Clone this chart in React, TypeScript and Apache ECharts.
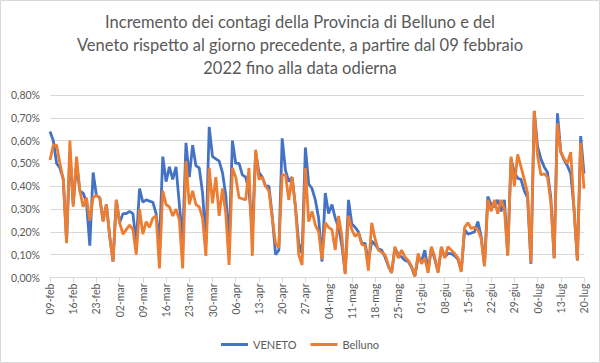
import React, { useEffect, useRef } from "react";
import * as echarts from "echarts";

const MONTHS = ["gen", "feb", "mar", "apr", "mag", "giu", "lug", "ago", "set", "ott", "nov", "dic"];
const START = { year: 2022, month: 1, day: 9 };
const DAY_COUNT = 162;

const dates: string[] = [];
for (let i = 0; i < DAY_COUNT; i++) {
  const d = new Date(Date.UTC(START.year, START.month, START.day + i));
  dates.push(String(d.getUTCDate()).padStart(2, "0") + "-" + MONTHS[d.getUTCMonth()]);
}

const veneto: number[] = [
  0.64, 0.60, 0.50, 0.48, 0.43, 0.16, 0.55, 0.32, 0.50, 0.38,
  0.37, 0.33, 0.14, 0.46, 0.36, 0.35, 0.25, 0.32, 0.18, 0.07,
  0.34, 0.24, 0.28, 0.28, 0.29, 0.28, 0.15, 0.39, 0.33, 0.34,
  0.335, 0.33, 0.28, 0.15, 0.53, 0.42, 0.485, 0.43, 0.485, 0.32,
  0.16, 0.59, 0.44, 0.58, 0.49, 0.48, 0.37, 0.15, 0.66, 0.53,
  0.52, 0.51, 0.46, 0.36, 0.15, 0.60, 0.50, 0.50, 0.45, 0.44,
  0.38, 0.20, 0.55, 0.46, 0.44, 0.40, 0.40, 0.27, 0.10, 0.12,
  0.61, 0.47, 0.42, 0.44, 0.31, 0.15, 0.105, 0.57, 0.41, 0.39,
  0.34, 0.26, 0.07, 0.37, 0.28, 0.32, 0.26, 0.22, 0.14, 0.02,
  0.34, 0.235, 0.22, 0.20, 0.15, 0.15, 0.07, 0.16, 0.145, 0.125,
  0.12, 0.09, 0.05, 0.02, 0.13, 0.10, 0.09, 0.075, 0.07, 0.045,
  0.005, 0.09, 0.07, 0.12, 0.03, 0.13, 0.08, 0.025, 0.13, 0.09,
  0.105, 0.105, 0.095, 0.08, 0.03, 0.21, 0.19, 0.195, 0.20, 0.245,
  0.18, 0.05, 0.355, 0.32, 0.31, 0.34, 0.29, 0.34, 0.10, 0.52,
  0.46, 0.435, 0.43, 0.38, 0.35, 0.06, 0.73, 0.575, 0.52, 0.485,
  0.46, 0.35, 0.085, 0.72, 0.55, 0.515, 0.49, 0.455, 0.30, 0.075,
  0.62, 0.455,
];

const belluno: number[] = [
  0.515, 0.58, 0.58, 0.50, 0.43, 0.15, 0.60, 0.31, 0.53, 0.38,
  0.31, 0.35, 0.25, 0.35, 0.36, 0.35, 0.245, 0.32, 0.18, 0.07,
  0.34, 0.24, 0.19, 0.21, 0.23, 0.21, 0.10, 0.30, 0.19, 0.245,
  0.22, 0.26, 0.27, 0.04, 0.38, 0.32, 0.31, 0.27, 0.30, 0.25,
  0.04, 0.51, 0.32, 0.38, 0.32, 0.31, 0.26, 0.095, 0.48, 0.325,
  0.44, 0.27, 0.39, 0.28, 0.055, 0.48, 0.44, 0.35, 0.345, 0.34,
  0.48, 0.095, 0.56, 0.43, 0.44, 0.40, 0.38, 0.26, 0.15, 0.13,
  0.45, 0.45, 0.34, 0.44, 0.31, 0.10, 0.055, 0.48, 0.245, 0.29,
  0.23, 0.20, 0.08, 0.24, 0.22, 0.21, 0.12, 0.27, 0.18, 0.015,
  0.27, 0.21, 0.18, 0.195, 0.145, 0.14, 0.03, 0.24, 0.17, 0.12,
  0.11, 0.10, 0.055, 0.02, 0.135, 0.085, 0.12, 0.09, 0.075, 0.05,
  0.005, 0.105, 0.06, 0.085, 0.02, 0.135, 0.09, 0.02, 0.135, 0.085,
  0.135, 0.12, 0.105, 0.085, 0.025, 0.22, 0.24, 0.215, 0.22, 0.21,
  0.17, 0.05, 0.34, 0.29, 0.34, 0.28, 0.34, 0.30, 0.095, 0.53,
  0.40, 0.54, 0.485, 0.43, 0.37, 0.065, 0.73, 0.535, 0.45, 0.455,
  0.44, 0.33, 0.085, 0.675, 0.55, 0.52, 0.50, 0.55, 0.30, 0.075,
  0.59, 0.39,
];

const TITLE =
  "Incremento dei contagi della Provincia di Belluno e del\nVeneto rispetto al giorno precedente, a partire dal 09 febbraio\n2022 fino alla data odierna";

const FONT = 'Lato, "Open Sans", sans-serif';

export default function App() {
  const ref = useRef<HTMLDivElement>(null);
  useEffect(() => {
    if (!ref.current) return;
    const chart = echarts.init(ref.current, null, { renderer: "svg" });
    chart.setOption({
      animation: false,
      backgroundColor: "#ffffff",
      textStyle: { fontFamily: FONT },
      title: {
        text: TITLE,
        left: "center",
        top: 5,
        textStyle: {
          fontFamily: FONT,
          fontSize: 16.5,
          fontWeight: "normal",
          color: "#595959",
          lineHeight: 23,
        },
      },
      legend: {
        bottom: 8,
        left: "center",
        icon: "rect",
        itemWidth: 27,
        itemHeight: 3,
        itemGap: 14,
        textStyle: { fontFamily: FONT, fontSize: 11, color: "#595959" },
        data: ["VENETO", "Belluno"],
      },
      grid: { left: 50, right: 16, top: 95, bottom: 85.5 },
      xAxis: {
        type: "category",
        boundaryGap: false,
        data: dates,
        axisLine: { lineStyle: { color: "#D9D9D9", width: 1 } },
        axisTick: { interval: 6, length: 5, lineStyle: { color: "#D9D9D9" } },
        axisLabel: {
          interval: 6,
          rotate: 90,
          fontSize: 10.5,
          color: "#595959",
          fontFamily: FONT,
          margin: 6,
        },
        splitLine: { show: false },
      },
      yAxis: {
        type: "value",
        min: 0,
        max: 0.8,
        interval: 0.1,
        axisLine: { show: false },
        axisTick: { show: false },
        axisLabel: {
          fontSize: 10.5,
          color: "#595959",
          fontFamily: FONT,
          margin: 10,
          formatter: (v: number) => v.toFixed(2).replace(".", ",") + "%",
        },
        splitLine: { lineStyle: { color: "#D9D9D9", width: 1 } },
      },
      series: [
        {
          name: "VENETO",
          type: "line",
          data: veneto,
          showSymbol: false,
          symbol: "none",
          color: "#4472C4",
          lineStyle: { color: "#4472C4", width: 2.8 },
        },
        {
          name: "Belluno",
          type: "line",
          data: belluno,
          showSymbol: false,
          symbol: "none",
          color: "#ED7D31",
          lineStyle: { color: "#ED7D31", width: 2.8 },
        },
      ],
      graphic: [
        {
          type: "rect",
          shape: { x: 0.5, y: 0.5, width: 599, height: 362 },
          style: { fill: "none", stroke: "#D9D9D9", lineWidth: 1 },
          silent: true,
        },
      ],
    });
    return () => chart.dispose();
  }, []);
  return (
    <div
      ref={ref}
      style={{ position: "absolute", left: 0, top: 0, width: 600, height: 363 }}
    />
  );
}
